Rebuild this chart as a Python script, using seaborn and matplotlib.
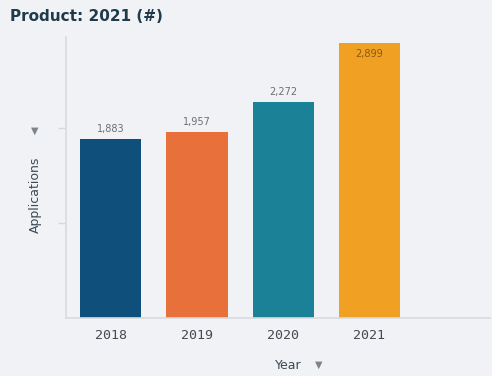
import matplotlib
matplotlib.use("Agg")
import matplotlib.pyplot as plt
import seaborn as sns
import pandas as pd

years = ["2018", "2019", "2020", "2021"]
applications = [1883, 1957, 2272, 2899]
bar_colors = ["#0e4f7b", "#e8703a", "#1a8196", "#f0a023"]

bg = "#f0f2f5"
sns.set_theme(style="white")
plt.rcParams["font.family"] = ["DejaVu Sans"]

df = pd.DataFrame({"Year": years, "Applications": applications})

fig = plt.figure(figsize=(4.92, 3.76), dpi=100, facecolor=bg)
ax = fig.add_axes([0.134, 0.154, 0.862, 0.748], facecolor=bg)

sns.barplot(data=df, x="Year", y="Applications", hue="Year",
            palette=bar_colors, width=0.71, legend=False, ax=ax,
            saturation=1, linewidth=0)

ymax = 2962
ax.set_ylim(0, ymax)
ax.set_xlim(-0.52, 4.4)

for i, v in enumerate(applications):
    label = f"{v:,}"
    if v > ymax * 0.95:
        ax.text(i, v - 70, label, ha="center", va="top", fontsize=7,
                color="#8a5a10")
    else:
        ax.text(i, v + 60, label, ha="center", va="bottom", fontsize=7,
                color="#6b6f73")

ax.set_yticks([1000, 2000])
ax.set_yticklabels([])
ax.tick_params(axis="y", left=True, length=6, color="#d4d7db", width=1,
               direction="out")
ax.tick_params(axis="x", length=0, pad=8, labelsize=9.5, labelcolor="#444a50")
for lbl in ax.get_xticklabels():
    lbl.set_fontfamily("DejaVu Sans Mono")

for side in ["top", "right"]:
    ax.spines[side].set_visible(False)
for side in ["left", "bottom"]:
    ax.spines[side].set_color("#d8dbdf")
    ax.spines[side].set_linewidth(1.2)

# axis titles with small gray sort arrows
ax.set_xlabel("Year", fontsize=9, color="#3a4a55", labelpad=8)
ax.xaxis.set_label_coords(0.525, -0.147)
ax.set_ylabel("Applications", fontsize=9, color="#3a4a55")
ax.yaxis.set_label_coords(-0.056, 0.44)
fig.text(0.648, 0.03, "\u25bc", fontsize=7, color="#7d848a",
         ha="center", va="center")
fig.text(0.071, 0.652, "\u25bc", fontsize=7, color="#7d848a",
         ha="center", va="center")

fig.text(0.02, 0.955, "Product: 2021 (#)", fontsize=11, fontweight="bold",
         color="#1f3a4a", ha="left", va="center")

fig.savefig("out.png", dpi=100, facecolor=bg)
